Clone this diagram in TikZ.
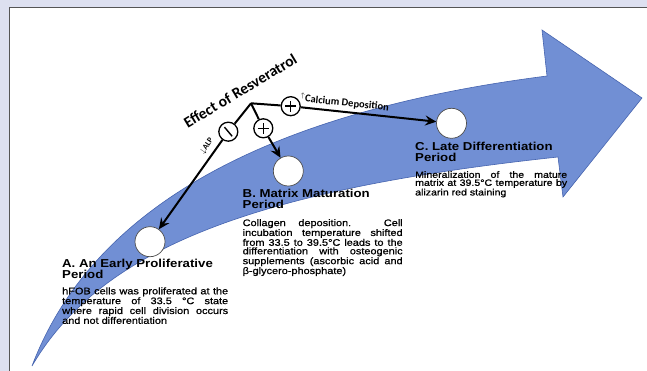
\documentclass[tikz,border=0pt]{standalone}
\usepackage{fontspec}
\setmainfont{Liberation Sans}
\newfontfamily\arialx[FakeStretch=1.15]{Liberation Sans}
\newfontfamily\arialbody[FakeStretch=1.15,FakeBold=0.8]{Liberation Sans}
\newfontfamily\calib{Carlito}
\usetikzlibrary{arrows.meta,calc}
\definecolor{bgc}{RGB}{221,224,240}
\definecolor{arrfill}{RGB}{113,143,212}
\definecolor{arrdraw}{RGB}{70,100,175}
\definecolor{framec}{RGB}{85,85,85}
\hyphenpenalty=10000
\tolerance=10000
\hbadness=10000
\begin{document}
\begin{tikzpicture}[x=1pt,y=-1pt,
  stage/.style={circle,draw=black!70,line width=0.7pt,fill=white,minimum size=30pt,inner sep=0pt},
  sign/.style={circle,draw=black,line width=1.3pt,fill=white,minimum size=19pt,inner sep=0pt},
  plusmark/.style={sign,path picture={
    \draw[line width=1.4pt] ([xshift=-5.5pt]path picture bounding box.center) -- ([xshift=5.5pt]path picture bounding box.center)
      ([yshift=-5.5pt]path picture bounding box.center) -- ([yshift=5.5pt]path picture bounding box.center);}},
  minusmark/.style={sign,path picture={
    \draw[line width=1.4pt] ([shift={(130:6pt)}]path picture bounding box.center) -- ([shift={(-50:6pt)}]path picture bounding box.center);}},
  eff/.style={line width=2pt,black},
  effarr/.style={eff,-{Stealth[length=11pt,width=10pt,inset=4pt]}},
  head/.style={anchor=north west,inner sep=0pt,font=\arialx\bfseries\fontsize{11.5}{11.4}\selectfont,align=left},
  body/.style={anchor=north west,inner sep=0pt,align=justify}
]
\useasboundingbox (0,0) rectangle (647,371);
% frame
\fill[bgc] (0,0) rectangle (647,371);
\fill[white] (9.5,7.5) rectangle (647,371);
\draw[framec,line width=1pt] (9.5,371) -- (9.5,7.5) -- (647,7.5);
% big curved arrow
\fill[arrfill,draw=arrdraw,line width=0.6pt] (32,366) .. controls (95,200) and (280,110) .. (547,76)
  -- (542,30) -- (642,98) -- (563,197) -- (558,157)
  .. controls (250,190) and (100,250) .. (32,366) -- cycle;
% stage circles
\node[stage] (A) at (150,241.7) {};
\node[stage] (B) at (288.3,171) {};
\node[stage] (C) at (451.5,123.3) {};
% effect branches
\coordinate (J) at (251,103.3);
\node[minusmark] (M) at (228.3,131.7) {};
\node[plusmark] (P2) at (263.3,128.3) {};
\node[plusmark] (P1) at (290.7,106.2) {};
\draw[eff] (J) -- (M);
\draw[eff] (J) -- (P2);
\draw[eff] (J) -- (P1);
\draw[effarr] (M) -- (A);
\draw[effarr] (P2) -- (B);
\draw[effarr] (P1) -- (C);
% effect labels
\node[font=\calib\bfseries\fontsize{15.5}{15.5}\selectfont,rotate=31,anchor=base,inner sep=0pt] (efftxt) at (243,95.5) {Effect of Resveratrol};
\node[font=\calib\bfseries\fontsize{10.5}{10.5}\selectfont,rotate=-6,anchor=base west,inner sep=0pt] (caltxt) at (300,101.5) {\textsuperscript{$\uparrow$}Calcium Deposition};
\node[font=\calib\bfseries\fontsize{8}{8}\selectfont,rotate=56,inner sep=0pt] (alptxt) at (207,146) {$\downarrow$ALP};
% stage texts
\node[head] (Ah) at (62,258.6) {A. An Early Proliferative\\Period};
\node[body,text width=166pt,font=\arialbody\fontsize{9.5}{7.4}\selectfont] (Ab) at (62,287.2) {hFOB cells was proliferated at the\linebreak temperature of 33.5 °C state\linebreak where rapid cell division occurs\linebreak and not differentiation};
\node[head] (Bh) at (242.5,189) {B. Matrix Maturation\\Period};
\node[body,text width=160pt,font=\arialbody\fontsize{9.5}{8.5}\selectfont] (Bb) at (242.5,219) {Collagen deposition. Cell\linebreak incubation temperature shifted\linebreak from 33.5 to 39.5°C leads to the\linebreak differentiation with osteogenic\linebreak supplements (ascorbic acid and\linebreak β-glycero-phosphate)};
\node[head] (Ch) at (415,142) {C. Late Differentiation\\Period};
\node[body,text width=152pt,font=\arialbody\fontsize{9.2}{8}\selectfont] (Cb) at (415,171) {Mineralization of the mature\linebreak matrix at 39.5°C temperature by\linebreak alizarin red staining};
\end{tikzpicture}
\end{document}
